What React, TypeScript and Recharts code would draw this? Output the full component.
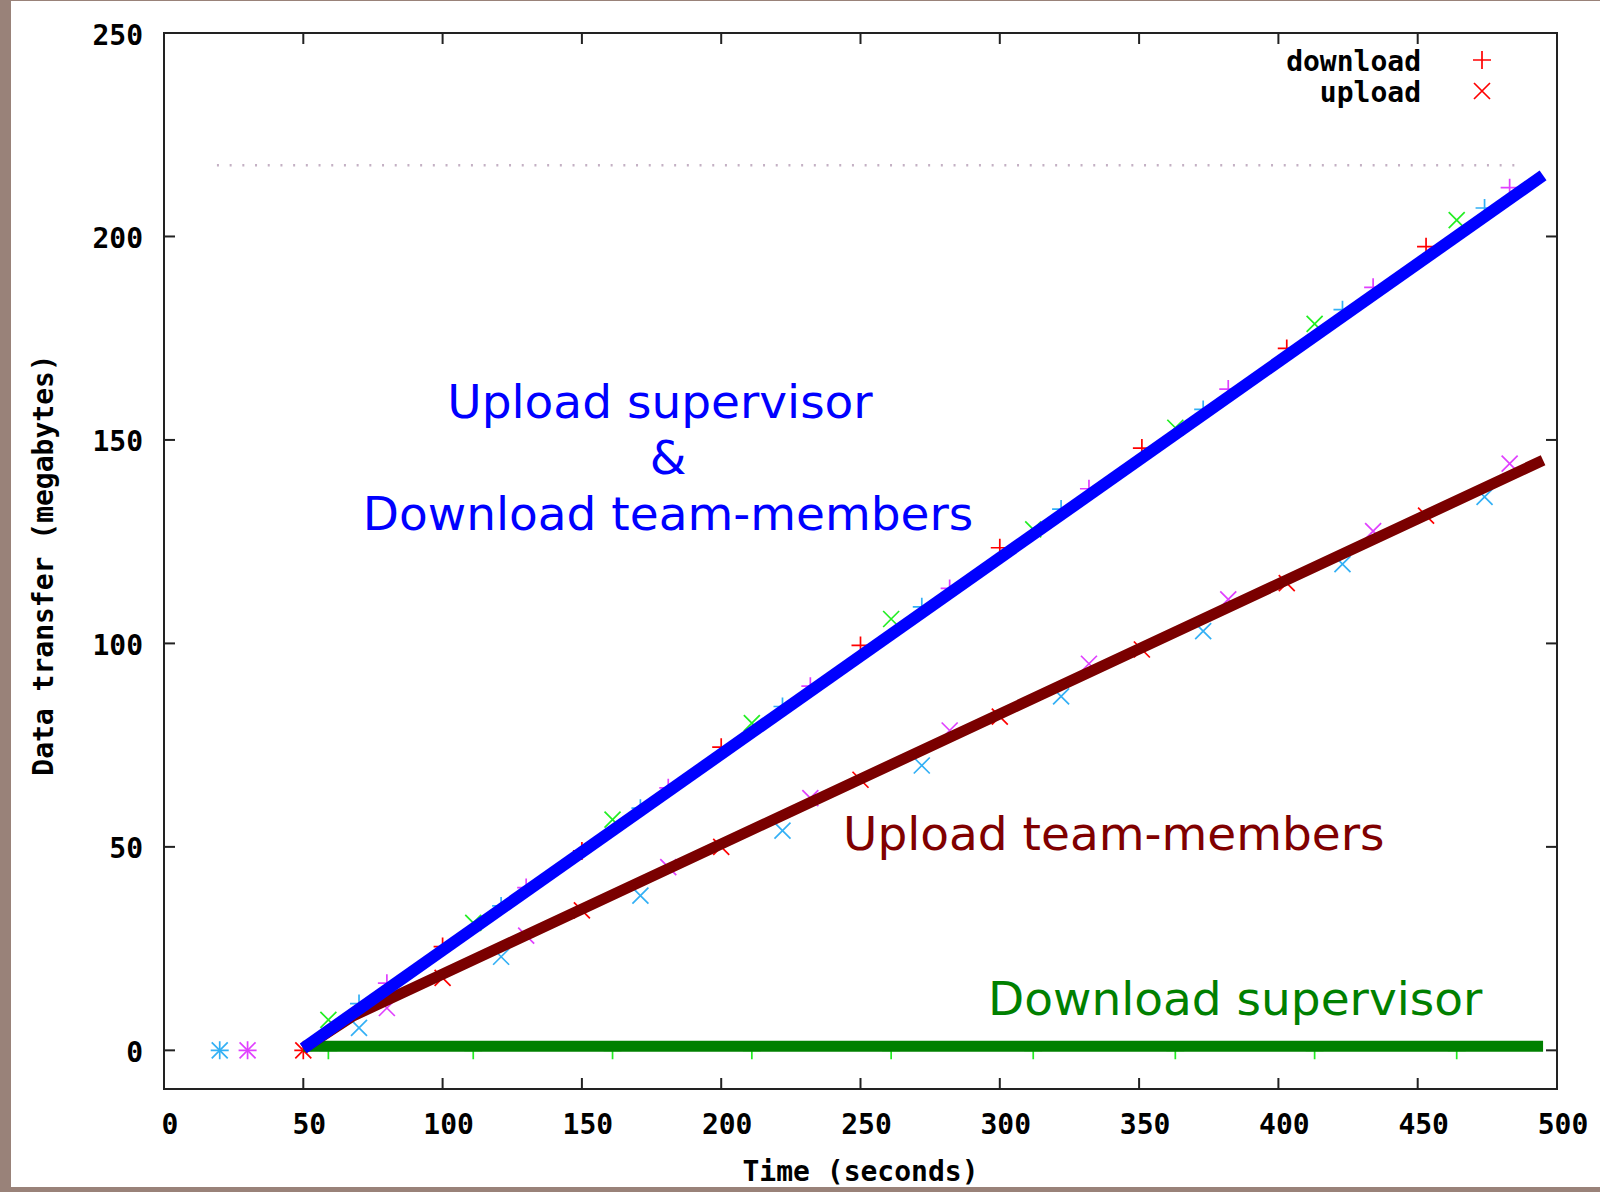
import React from 'react';
import {
  ScatterChart,
  Scatter,
  XAxis,
  YAxis,
  ReferenceLine,
  ReferenceArea,
  Legend,
} from 'recharts';

// axis ticks
const X_TICKS = [0, 50, 100, 150, 200, 250, 300, 350, 400, 450, 500];
const Y_TICKS = [0, 50, 100, 150, 200, 250];

// per-client samples: time (s), download MB, upload MB
const RED_T = [50, 100, 150, 200, 250, 300, 351, 403, 453];
const RED_DOWN = [0, 25.5, 49, 74.5, 99.5, 123.5, 148, 172.5, 197.5];
const RED_UP = [0, 17.8, 34.4, 50, 66.5, 82, 98.5, 114.8, 131.4];

const CYAN_T = [20, 70, 121, 171, 222, 272, 322, 373, 423, 474];
const CYAN_DOWN = [0, 11.5, 35.5, 59.5, 84.5, 109, 133, 157.5, 182, 207];
const CYAN_UP = [0, 5.5, 23, 38, 54, 70, 87, 103, 119.5, 136];

const MAGENTA_T = [30, 80, 130, 181, 232, 282, 332, 382, 434, 483];
const MAGENTA_DOWN = [0, 16.5, 40, 64.5, 89.5, 113.5, 138, 162.5, 187.5, 212];
const MAGENTA_UP = [0, 10.4, 28.2, 45, 62, 78.6, 95, 110.8, 127.6, 144.2];

// supervisor
const GREEN_T = [59, 111, 161, 211, 261, 312, 363, 413, 464];
const GREEN_DOWN = [0, 0, 0, 0, 0, 0, 0, 0, 0];
const GREEN_UP = [7.5, 31.3, 56.7, 80.4, 106, 128, 153, 178.5, 204];

// thick trend lines
const UPLOAD_SUPERVISOR_T = [50, 495];
const UPLOAD_SUPERVISOR_V = [0.5, 215];
const UPLOAD_TEAM_T = [50, 68, 495];
const UPLOAD_TEAM_V = [0.5, 8.5, 145];
const DOWNLOAD_SUPERVISOR_T = [50, 495];
const DOWNLOAD_SUPERVISOR_V = [1, 1];

// dotted limit
const LIMIT_T = [19, 485];
const LIMIT_V = 217.5;

const LEGEND_LABELS = ['download', 'upload'];

const toPoints = (t: number[], v: number[]) => t.map((x, i) => ({ x, y: v[i] }));

const PLOT_TOP = 33;
const PLOT_RIGHT = 1557;
const TICK_LEN = 11;
const AXIS_COLOR = '#222';

const MONO = {
  fontFamily: '"DejaVu Sans Mono", monospace',
  fontWeight: 'bold' as const,
  fontSize: 28,
  fill: '#000',
};

const SANS = {
  fontFamily: '"DejaVu Sans", sans-serif',
  fontSize: 47,
};

function Plus({ cx, cy, color }: any) {
  if (cx == null || cy == null) return <g />;
  return (
    <path
      d={`M${cx - 9},${cy}h18M${cx},${cy - 9}v18`}
      stroke={color}
      strokeWidth={1.7}
      fill="none"
    />
  );
}

function Cross({ cx, cy, color }: any) {
  if (cx == null || cy == null) return <g />;
  return (
    <path
      d={`M${cx - 8},${cy - 8}l16,16M${cx - 8},${cy + 8}l16,-16`}
      stroke={color}
      strokeWidth={1.7}
      fill="none"
    />
  );
}

function XTick({ x, y, payload }: any) {
  return (
    <g>
      <line x1={x} y1={y} x2={x} y2={y - TICK_LEN} stroke={AXIS_COLOR} strokeWidth={2} />
      <line x1={x} y1={PLOT_TOP} x2={x} y2={PLOT_TOP + TICK_LEN} stroke={AXIS_COLOR} strokeWidth={2} />
      <text x={x + 6} y={y + 45} textAnchor="middle" style={MONO}>
        {payload.value}
      </text>
    </g>
  );
}

function YTick({ x, y, payload }: any) {
  return (
    <g>
      <line x1={x} y1={y} x2={x + TICK_LEN} y2={y} stroke={AXIS_COLOR} strokeWidth={2} />
      <line x1={PLOT_RIGHT} y1={y} x2={PLOT_RIGHT - TICK_LEN} y2={y} stroke={AXIS_COLOR} strokeWidth={2} />
      <text x={x - 21} y={y + 2} textAnchor="end" dominantBaseline="central" style={MONO}>
        {payload.value}
      </text>
    </g>
  );
}

function YLabel({ viewBox }: any) {
  const cy = viewBox.y + viewBox.height / 2 + 4;
  return (
    <text transform={`translate(53, ${cy}) rotate(-90)`} textAnchor="middle" style={MONO}>
      Data transfer (megabytes)
    </text>
  );
}

function LegendBox() {
  return (
    <svg width={280} height={70}>
      {LEGEND_LABELS.map((label, i) => (
        <g key={label}>
          <text x={181} y={21 + i * 31} textAnchor="end" dominantBaseline="central" style={MONO}>
            {label}
          </text>
          {i === 0 ? (
            <Plus cx={242} cy={20 + i * 31} color="#ff0000" />
          ) : (
            <Cross cx={242} cy={20 + i * 31} color="#ff0000" />
          )}
        </g>
      ))}
    </svg>
  );
}

const noDot = () => <g />;

export default function App() {
  return (
    <div
      style={{
        position: 'absolute',
        left: 0,
        top: 0,
        width: 1600,
        height: 1192,
        background: '#998279',
      }}
    >
      <div
        style={{
          position: 'absolute',
          left: 11,
          top: 1,
          width: 1589,
          height: 1186,
          background: '#fff',
        }}
      />
      <div style={{ position: 'absolute', left: 0, top: 0 }}>
        <ScatterChart
          width={1600}
          height={1192}
          margin={{ top: PLOT_TOP, right: 1600 - PLOT_RIGHT, bottom: 0, left: 4 }}
        >
          <XAxis
            type="number"
            dataKey="x"
            domain={[0, 500]}
            ticks={X_TICKS}
            interval={0}
            allowDataOverflow
            height={103}
            tickSize={0}
            tickMargin={0}
            tickLine={false}
            tick={<XTick />}
            axisLine={{ stroke: AXIS_COLOR, strokeWidth: 2 }}
            label={{
              value: 'Time (seconds)',
              position: 'insideBottom',
              offset: 11,
              style: MONO,
            }}
          />
          <YAxis
            type="number"
            dataKey="y"
            domain={[-9.5, 250]}
            ticks={Y_TICKS}
            interval={0}
            allowDataOverflow
            width={160}
            tickSize={0}
            tickMargin={0}
            tickLine={false}
            tick={<YTick />}
            axisLine={{ stroke: AXIS_COLOR, strokeWidth: 2 }}
            label={{ content: <YLabel /> }}
          />
          <ReferenceArea
            x1={0}
            x2={500}
            y1={-9.5}
            y2={250}
            fill="none"
            fillOpacity={0}
            stroke={AXIS_COLOR}
            strokeWidth={2}
          />
          <ReferenceLine
            segment={[
              { x: LIMIT_T[0], y: LIMIT_V },
              { x: LIMIT_T[1], y: LIMIT_V },
            ]}
            stroke="#c4b0c4"
            strokeWidth={2.5}
            strokeDasharray="2 10.7"
          />
          <Legend
            layout="horizontal"
            verticalAlign="middle"
            align="center"
            content={<LegendBox />}
            wrapperStyle={{ left: 1240, top: 40, width: 280, height: 70 }}
          />

          {/* sample markers */}
          <Scatter data={toPoints(RED_T, RED_DOWN)} shape={(p: any) => <Plus {...p} color="#ff0000" />} isAnimationActive={false} />
          <Scatter data={toPoints(RED_T, RED_UP)} shape={(p: any) => <Cross {...p} color="#ff0000" />} isAnimationActive={false} />
          <Scatter data={toPoints(CYAN_T, CYAN_DOWN)} shape={(p: any) => <Plus {...p} color="#33b0f5" />} isAnimationActive={false} />
          <Scatter data={toPoints(CYAN_T, CYAN_UP)} shape={(p: any) => <Cross {...p} color="#33b0f5" />} isAnimationActive={false} />
          <Scatter data={toPoints(MAGENTA_T, MAGENTA_DOWN)} shape={(p: any) => <Plus {...p} color="#e040ff" />} isAnimationActive={false} />
          <Scatter data={toPoints(MAGENTA_T, MAGENTA_UP)} shape={(p: any) => <Cross {...p} color="#e040ff" />} isAnimationActive={false} />
          <Scatter data={toPoints(GREEN_T, GREEN_DOWN)} shape={(p: any) => <Plus {...p} color="#22ee22" />} isAnimationActive={false} />
          <Scatter data={toPoints(GREEN_T, GREEN_UP)} shape={(p: any) => <Cross {...p} color="#22ee22" />} isAnimationActive={false} />

          {/* thick trend lines */}
          <Scatter
            data={toPoints(DOWNLOAD_SUPERVISOR_T, DOWNLOAD_SUPERVISOR_V)}
            line={{ stroke: '#008000', strokeWidth: 11 }}
            stroke="#008000"
            shape={noDot}
            isAnimationActive={false}
          />
          <Scatter
            data={toPoints(UPLOAD_TEAM_T, UPLOAD_TEAM_V)}
            line={{ stroke: '#7a0000', strokeWidth: 11 }}
            stroke="#7a0000"
            shape={noDot}
            isAnimationActive={false}
          />
          <Scatter
            data={toPoints(UPLOAD_SUPERVISOR_T, UPLOAD_SUPERVISOR_V)}
            line={{ stroke: '#0000ff', strokeWidth: 12 }}
            stroke="#0000ff"
            shape={noDot}
            isAnimationActive={false}
          />
        </ScatterChart>
      </div>
      <svg
        width={1600}
        height={1192}
        style={{ position: 'absolute', left: 0, top: 0, pointerEvents: 'none' }}
      >
        <g style={SANS}>
          <text x={660} y={418} textAnchor="middle" fill="#0000ff">Upload supervisor</text>
          <text x={668} y={474} textAnchor="middle" fill="#0000ff">&amp;</text>
          <text x={668} y={530} textAnchor="middle" fill="#0000ff">Download team-members</text>
          <text x={843} y={850} fill="#800000">Upload team-members</text>
          <text x={988} y={1015} fill="#008000">Download supervisor</text>
        </g>
      </svg>
    </div>
  );
}
